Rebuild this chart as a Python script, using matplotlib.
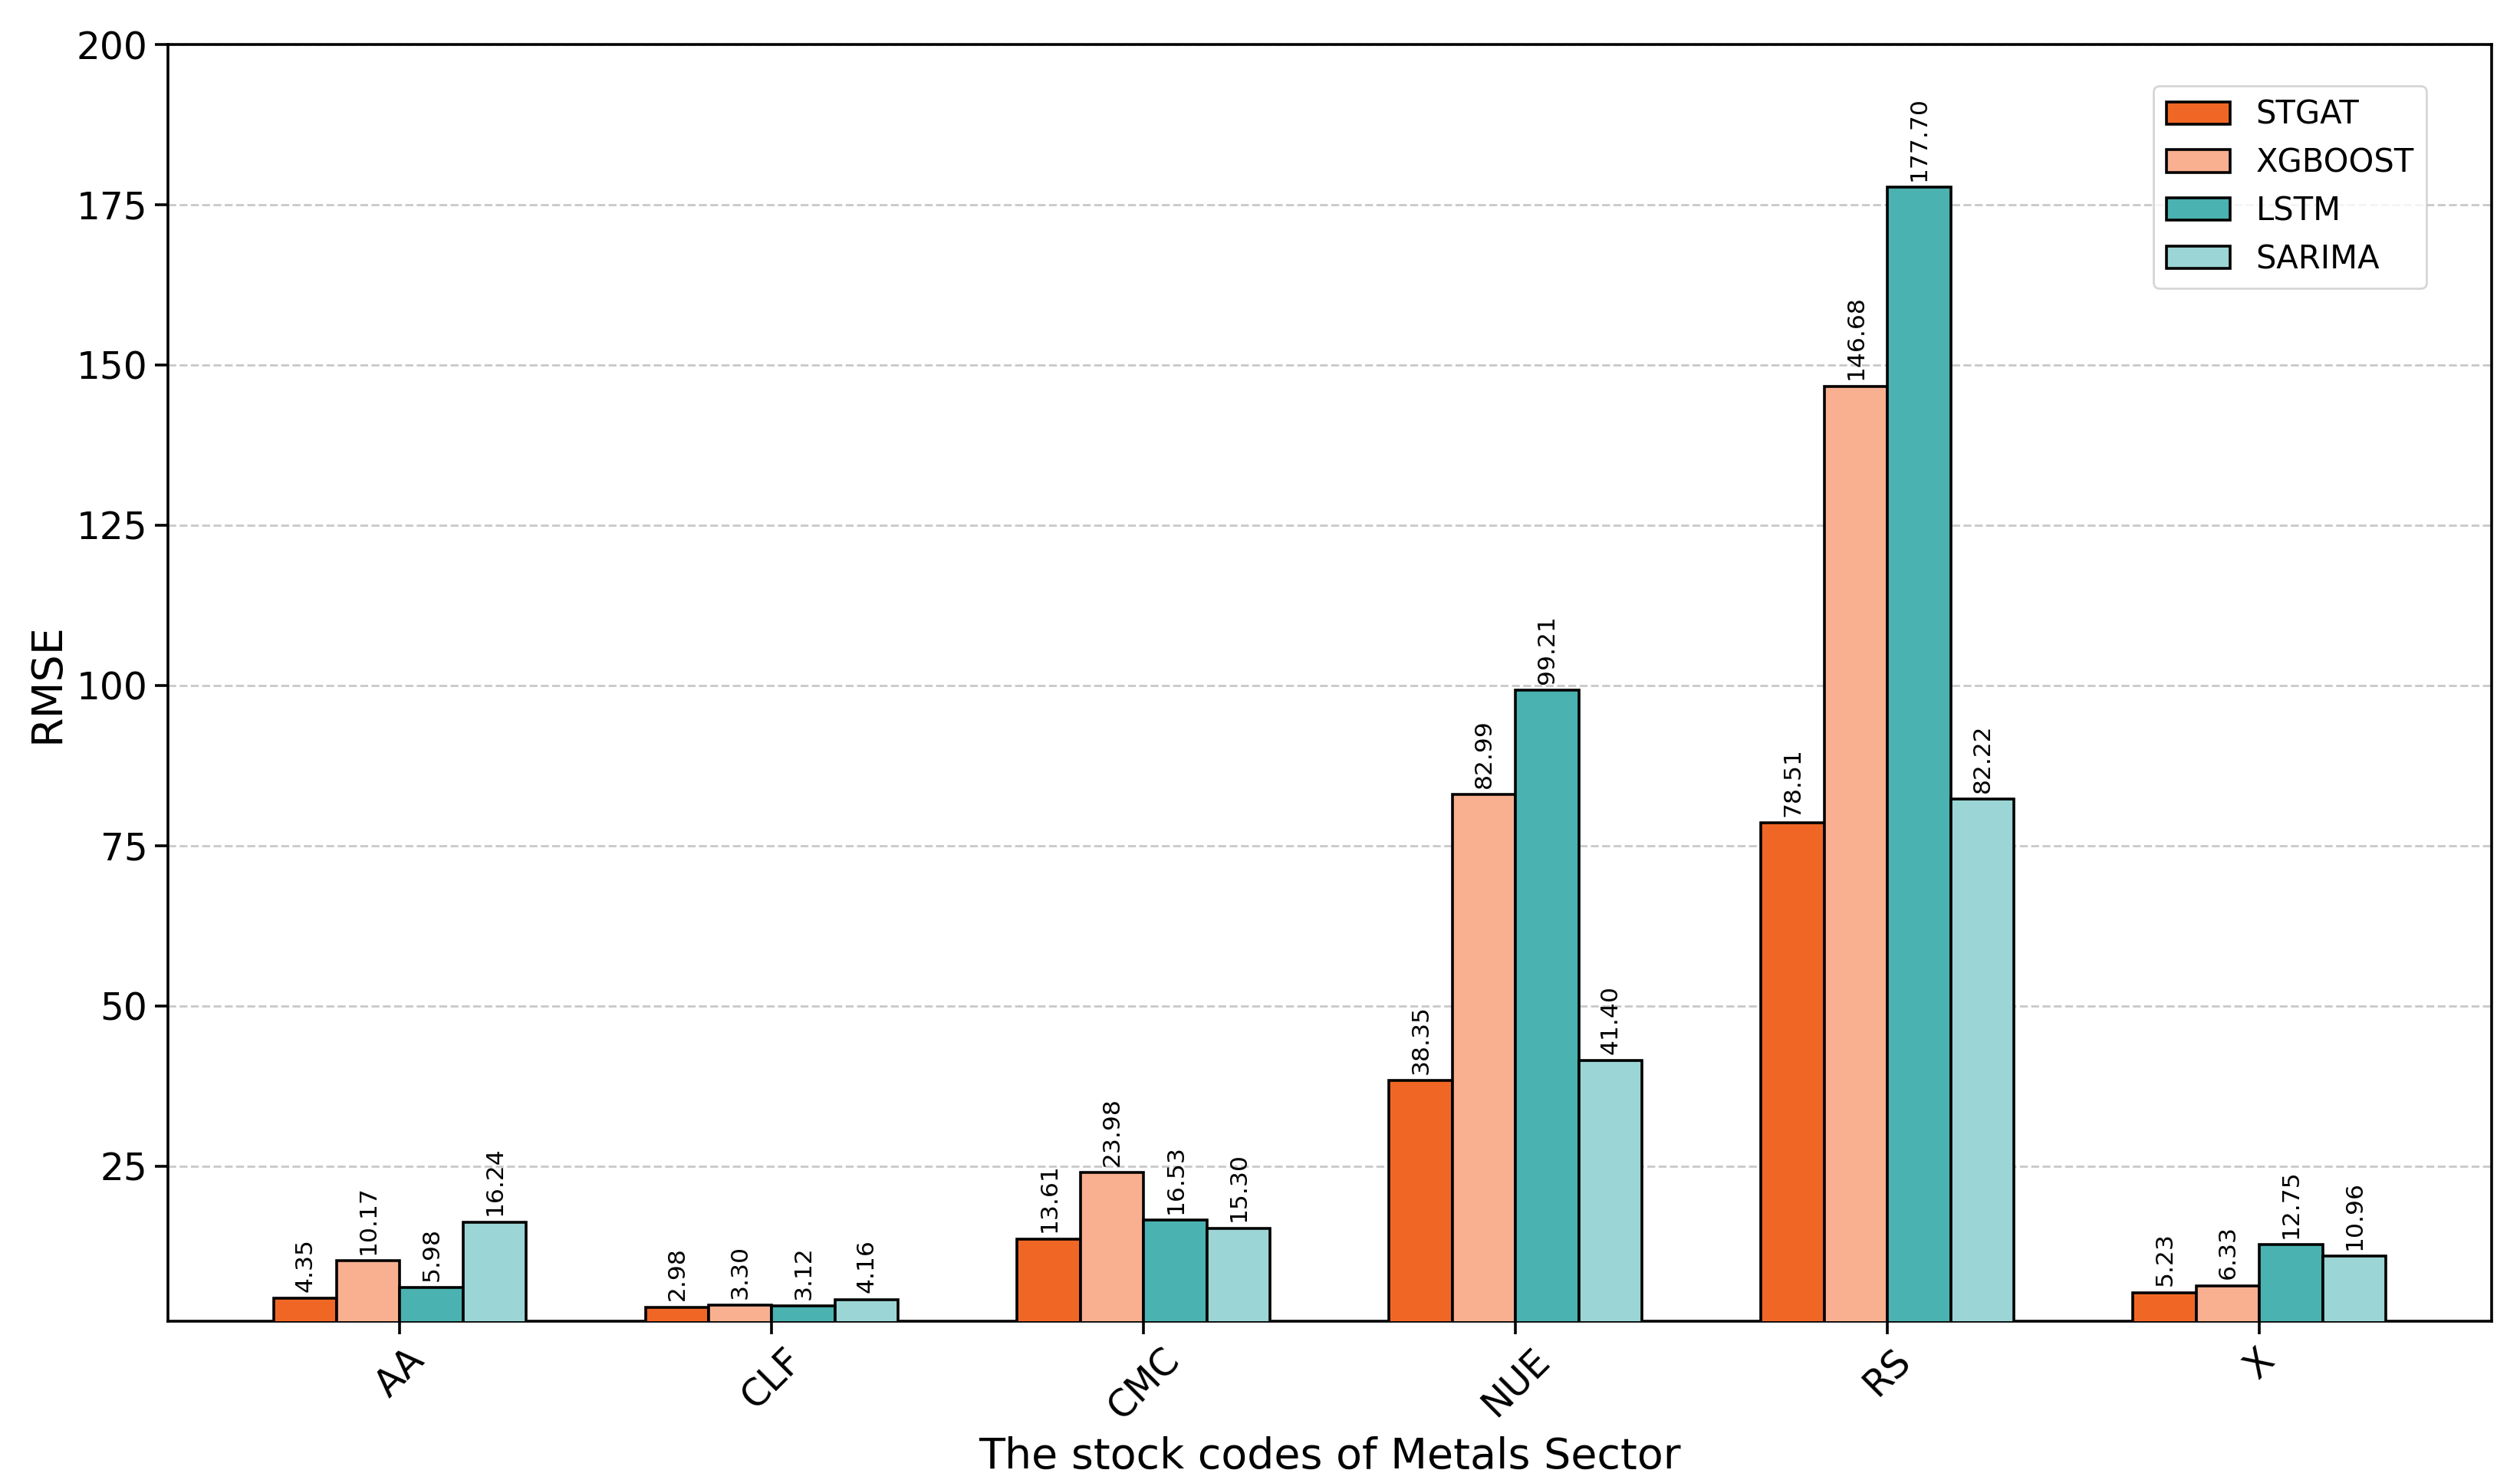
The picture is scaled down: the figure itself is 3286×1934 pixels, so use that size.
import numpy as np
import matplotlib.pyplot as plt

# Data
stocks = ['AA', 'CLF', 'CMC', 'NUE', 'RS', 'X']
models = ['STGAT', 'XGBOOST', 'LSTM', 'SARIMA']
stgat = [4.35, 2.98, 13.61, 38.35, 78.51, 5.23]
xgboost = [10.17, 3.30, 23.98, 82.99, 146.68, 6.33]
lstm = [5.98, 3.12, 16.53, 99.21, 177.70, 12.75]
sarima = [16.24, 4.16, 15.30, 41.40, 82.22, 10.96]
yticks = [25, 50, 75, 100, 125, 150, 175, 200]

colors = ['#F06725', '#F8B090', '#4AB2B0', '#9CD5D5']
series = [stgat, xgboost, lstm, sarima]

fig = plt.figure(figsize=(16.43, 9.67), dpi=200)
ax = fig.add_axes([0.0666, 0.109, 0.9221, 0.861])

x = np.arange(len(stocks))
w = 0.17
for i, (name, vals, c) in enumerate(zip(models, series, colors)):
    bars = ax.bar(x + (i - 1.5) * w, vals, w, color=c, edgecolor='black',
                  linewidth=1.3, label=name, zorder=3)
    ax.bar_label(bars, fmt='%.2f', rotation=90, padding=3, fontsize=11.3)

ax.set_ylim(0.75, 200)
ax.set_yticks(yticks)
ax.set_xticks(x)
ax.set_xticklabels(stocks, rotation=45, fontsize=17.5)
ax.tick_params(axis='y', labelsize=17.5)
ax.tick_params(width=1.3, length=6)
for s in ax.spines.values():
    s.set_linewidth(1.3)

ax.grid(axis='y', linestyle='--', color='#bbbbbb', linewidth=1.0, alpha=0.8, zorder=0)
ax.set_xlabel('The stock codes of Metals Sector', fontsize=20)
ax.set_ylabel('RMSE', fontsize=20)
ax.legend(loc='upper right', bbox_to_anchor=(0.979, 0.98), fontsize=15, labelspacing=0.5)

plt.savefig('out.png', dpi=200)
